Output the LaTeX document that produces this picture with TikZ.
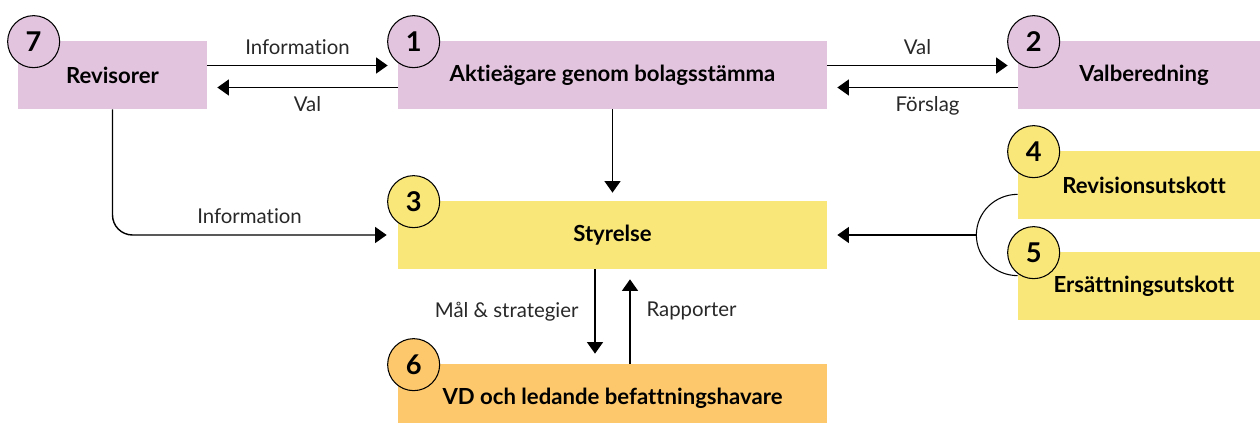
\documentclass[tikz,border=0pt]{standalone}
\usepackage{fontspec}
\setmainfont{Lato}[Ligatures=NoCommon]
\usetikzlibrary{positioning,calc,arrows.meta}
\definecolor{lila}{RGB}{226,196,222}
\definecolor{gul}{RGB}{249,231,122}
\definecolor{apelsin}{RGB}{253,200,107}
\definecolor{textgra}{RGB}{40,40,40}

\tikzset{
    box/.style={minimum height=1.36cm, inner sep=0pt, font=\bfseries\fontsize{12.6}{14}\selectfont},
    num/.style={circle, draw, line width=0.6pt, minimum size=1.04cm, inner sep=0pt, font=\bfseries\fontsize{15.5}{17}\selectfont},
    pil/.style={line width=0.8pt, -{Triangle[length=6.5pt,width=9pt]}},
    etikett/.style={font=\fontsize{11.6}{13}\selectfont, text=textgra, inner sep=2pt},
}

\begin{document}
\begin{tikzpicture}
    \useasboundingbox (0,0) rectangle (25.2,8.46);
    % boxes
    \node[box, fill=lila, minimum width=3.78cm] (rev) at (2.25,6.96) {Revisorer};
    \node[box, fill=lila, minimum width=8.58cm] (akt) at (12.25,6.96) {Aktieägare genom bolagsstämma};
    \node[box, fill=lila, minimum width=5.04cm] (val) at (22.88,6.96) {Valberedning};
    \node[box, fill=gul, minimum width=8.58cm] (sty) at (12.25,3.76) {Styrelse};
    \node[box, fill=gul, minimum width=5.04cm] (revu) at (22.88,4.76) {Revisionsutskott};
    \node[box, fill=gul, minimum width=5.04cm] (ers) at (22.88,2.74) {Ersättningsutskott};
    \node[box, fill=apelsin, minimum width=8.58cm] (vd) at (12.25,0.5) {VD och ledande befattningshavare};
    % numbers
    \foreach \b/\n/\c in {rev/7/lila, akt/1/lila, val/2/lila, sty/3/gul, revu/4/gul, ers/5/gul, vd/6/apelsin}
        \node[num, fill=\c] (n\n) at ([shift={(0.32,-0.02)}]\b.north west) {\n};
    % top row
    \draw[pil] ([yshift=0.19cm]rev.east) -- node[etikett, above=4pt] {Information} ([xshift=-0.2cm,yshift=0.19cm]akt.west);
    \draw[pil] ([yshift=-0.25cm]akt.west) -- node[etikett, below=3pt] {Val} ([xshift=0.2cm,yshift=-0.25cm]rev.east);
    \draw[pil] ([yshift=0.19cm]akt.east) -- node[etikett, above=4pt] {Val} ([xshift=-0.2cm,yshift=0.19cm]val.west);
    \draw[pil] ([yshift=-0.25cm]val.west) -- node[etikett, below=3pt] {Förslag} ([xshift=0.2cm,yshift=-0.25cm]akt.east);
    \draw[pil] (akt.south) -- ([yshift=0.16cm]sty.north);
    \draw[pil, rounded corners=0.4cm] (rev.south) |- node[etikett, above=4pt, pos=0.75] {Information} ([xshift=-0.22cm]sty.west);
    % committees
    \coordinate (brk) at ([xshift=2.98cm]sty.east);
    \draw[line width=0.6pt] ([yshift=0.5cm]revu.south west) to[out=180,in=90] (brk) to[out=-90,in=180] ([yshift=-0.48cm]ers.north west);
    \draw[pil] (brk) -- ([xshift=0.2cm]sty.east);
    % bottom
    \draw[pil] ([xshift=-0.35cm]sty.south) -- node[etikett, left=7pt] {Mål \& strategier} ([xshift=-0.35cm,yshift=0.2cm]vd.north);
    \draw[pil] ([xshift=0.35cm]vd.north) -- node[etikett, right=7pt, pos=0.62] {Rapporter} ([xshift=0.35cm,yshift=-0.2cm]sty.south);
\end{tikzpicture}
\end{document}
